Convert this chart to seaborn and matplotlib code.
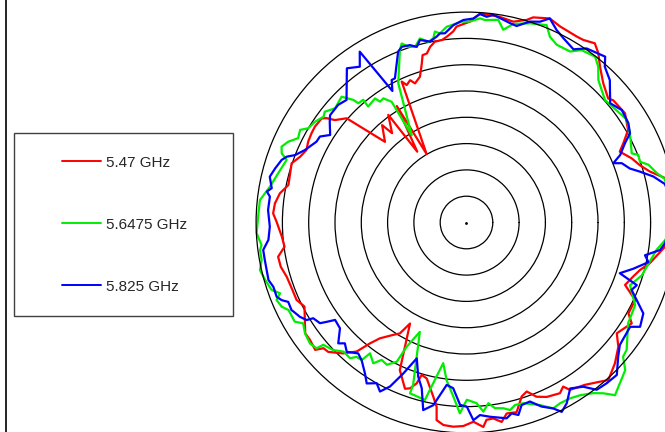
import numpy as np
import pandas as pd
import seaborn as sns
import matplotlib.pyplot as plt
from matplotlib.lines import Line2D
from matplotlib.patches import Rectangle

# radiation pattern, angle in degrees (ccw from east), gain in dB
red_theta = [0, 6, 12.6, 15.5, 18.3, 21.2, 24.8, 26.8, 29.8, 34.6, 39.8, 41.2, 45.5, 49.4, 52.1, 54.4,
             57.4, 59.3, 64.5, 67.8, 72.0, 73.4, 76.9, 80.8, 83.5, 86.3, 89.0, 92.9, 94.0, 96.1, 97.7,
             99.9, 101.7, 103.2, 104.7, 105.7, 107.7, 110.3, 111.6, 113.5, 114.7, 120.2, 120.9, 124.8,
             126.0, 129.8, 130.9, 135.3, 139.0, 142.1, 143.3, 144.3, 147.7, 150.0, 152.9, 155.6, 158.4,
             161.3, 164.4, 168.1, 171.1, 174.3, 177.3, 179.8, 184.4, 187.6, 190.3, 193.4, 196.8, 200.6,
             204.5, 207.4, 214.5, 216.9, 220.1, 221.3, 223.1, 226.7, 229.6, 231.4, 233.2, 236.9, 239.0,
             240.8, 245.7, 249.7, 251.2, 252.8, 253.6, 255.7, 259.2, 260.8, 261.4, 263.5, 266.3, 269.1,
             272.0, 274.7, 275.8, 277.8, 280.0, 281.9, 284.8, 287.6, 289.6, 291.9, 294.7, 298.7, 300.5,
             301.7, 306.1, 310.0, 312.0, 316.5, 320.7, 323.6, 326.9, 328.6, 330.7, 335.3, 338.5, 342.0,
             344.7, 347.5, 353.0, 360]
red_db = [-1.0, -0.8, -1.3, -3.8, -5.3, -6.3, -7.9, -6.6, -4.6, -3.4, -3.7, -4.2, -2.9, -1.0, 0.8, 1.9,
          1.2, 1.1, 1.3, 1.9, 1.0, 0.2, -0.8, -0.4, -0.3, -0.2, -1.8, -2.7, -3.6, -4.5, -5.0,
          -5.1, -5.9, -7.0, -7.1, -8.6, -10.9, -11.8, -10.9, -11.5, -10.5, -24.9, -14.2, -23.6,
          -14.7, -17.9, -15.5, -18.2, -9.8, -8.3, -6.8, -6.1, -5.9, -6.0, -6.2, -6.6, -6.0,
          -4.9, -5.2, -5.4, -4.1, -3.4, -3.2, -3.9, -4.8, -5.1, -3.6, -3.7, -4.3, -4.5,
          -4.5, -5.3, -2.8, -2.8, -2.4, -3.8, -4.0, -5.8, -7.8, -10.6, -12.5, -14.5, -15.4,
          -18.0, -9.2, -6.3, -6.7, -8.0, -9.8, -9.4, -6.3, -4.5, -2.0, -1.25, -1.1, -1.3,
          -2.1, -1.0, -2.3, -2.4, -1.5, -2.9, -2.7, -5.3, -5.9, -4.3, -3.5, -3.0, -3.8,
          -2.6, -1.8, -0.5, 0.3, -1.1, -2.7, -4.5, -3.7, -3.2, -4.7, -4.7, -7.6, -6.7,
          -5.8, -4.3, -2.0, -1.0]

green_theta = [0, 6, 12.4, 14.5, 17.6, 19.3, 21.5, 22.7, 28.6, 32.6, 34.0, 41.5, 47.2, 49.8, 52.2, 56.3,
               58.8, 63.1, 65.8, 67.9, 72.3, 76.7, 79.2, 81.1, 84.8, 86.2, 89.0, 91.4, 92.8, 95.8, 98.0,
               99.4, 100.2, 101.9, 104.2, 106.3, 108.3, 109.9, 111.1, 116.1, 122.1, 121.8, 123.8, 125.6,
               126.4, 130.3, 130.1, 132.2, 132.7, 134.8, 139.0, 142.0, 143.5, 146.4, 149.2, 150.9, 153.4,
               155.6, 157.7, 159.5, 160.8, 164.3, 169.7, 173.8, 177.9, 182.9, 186.3, 187.6, 190.4, 193.0,
               195.9, 199.1, 200.8, 202.2, 204.5, 206.2, 210.0, 211.7, 214.5, 217.7, 220.0, 220.5, 223.7,
               226.4, 229.4, 230.7, 232.7, 233.6, 236.5, 238.3, 240.75, 243.4, 244.3, 246.9, 251.8, 251.7,
               256.8, 260.6, 262.8, 265.7, 268.0, 270.1, 273.2, 275.1, 276.9, 278.7, 281.2, 283.1, 284.9,
               287.4, 291.9, 295.0, 297.3, 300.5, 303.3, 306.6, 308.7, 310.7, 317.1, 319.4, 321.5, 328.1,
               333.9, 339.0, 343.2, 351.8, 354.9, 360]
green_db = [-0.5, -1.0, -1.4, -2.6, -3.7, -5.05, -4.9, -5.95, -4.6, -3.8, -4.0, -4.85, -3.1, -1.2, -0.1, -0.6,
            -2.0, -2.1, -1.3, 0.5, -0.25, -1.2, -2.7, -1.0, -1.35, -1.1, -1.8, -1.8, -2.1, -2.6, -3.7,
            -3.2, -4.4, -4.9, -3.9, -5.2, -4.8, -3.8, -4.85, -10.5, -20.4, -13.0, -11.6, -11.75,
            -10.7, -11.1, -9.5, -9.4, -8.3, -6.3, -6.9, -5.8, -6.2, -5.4, -5.0, -3.8, -4.2,
            -2.8, -2.0, -2.5, -3.8, -3.2, -2.0, -0.5, -0.4, -0.05, -0.8, -0.4, -0.4, 0.3,
            -0.2, -0.8, -2.1, -1.0, -1.4, -2.3, -2.3, -3.5, -2.75, -2.4, -2.8, -4.2, -4.9,
            -6.1, -6.0, -7.0, -7.1, -9.1, -7.9, -9.3, -9.0, -10.4, -13.8, -17.4, -7.5, -5.8,
            -5.35, -12.9, -9.8, -6.8, -3.7, -6.3, -5.6, -3.9, -5.4, -4.3, -4.0, -3.4, -4.1,
            -4.0, -2.6, -1.0, -1.3, -1.2, -0.7, 0.4, 1.6, 3.3, 1.2, -0.8, -1.1, -3.8,
            -4.3, -6.7, -5.2, -3.5, -2.1, -0.5]

blue_theta = [0, 6, 11.0, 13.8, 16.3, 18.3, 20.9, 22.0, 23.7, 26.6, 28.6, 31.5, 35.9, 39.7, 44.8, 48.4,
              50.1, 55.4, 58.3, 62.3, 64.9, 67.8, 69.9, 72.5, 75.7, 77.7, 82.6, 84.4, 86.3, 88.1, 90.9,
              93.8, 96.5, 98.0, 99.1, 101.4, 104.3, 105.8, 107.7, 110.2, 111.8, 116.4, 117.7, 119.4,
              122.0, 124.4, 127.8, 134.4, 137.5, 141.8, 143.6, 147.3, 149.6, 151.7, 155.8, 158.5, 159.9,
              161.3, 164.2, 166.9, 170.0, 171.2, 172.5, 176.4, 181.2, 185.0, 187.7, 190.5, 193.4, 196.2,
              198.4, 201.4, 202.8, 204.0, 206.6, 207.2, 209.5, 211.4, 212.0, 214.5, 215.4, 216.55, 219.9,
              223.3, 224.8, 227.2, 230.4, 232.7, 236.1, 238.2, 240.8, 242.9, 245.0, 247.3, 249.9, 252.6,
              254.9, 257.0, 259.7, 263.05, 265.4, 268.0, 270.1, 272.0, 274.0, 276.9, 281.6, 283.3, 285.1,
              286.8, 289.5, 292.2, 295.0, 296.7, 299.0, 302.0, 305.4, 307.9, 311.1, 314.6, 318.5, 321.4,
              327.5, 329.0, 332.8, 335.5, 337.8, 339.8, 341.7, 344.5, 347.7, 349.6, 351.9, 354.0, 360]
blue_db = [-1.0, -0.7, -1.6, -3.4, -5.6, -7.3, -8.4, -9.9, -8.1, -6.3, -4.6, -3.9, -3.55, -4.5, -1.6, -0.4,
           1.1, 0.2, -1.3, -0.4, 0.4, 1.9, 0.65, 0.05, -1.45, -1.2, -0.2, -0.7, -0.3, -1.2, -1.5,
           -2.4, -3.8, -3.7, -4.2, -4.9, -4.2, -5.3, -4.6, -4.4, -5.0, -9.4, -9.4, -11.3,
           -1.7, -4.1, -2.9, -7.4, -6.9, -7.0, -7.7, -9.2, -7.7, -7.6, -6.35, -5.0, -3.6,
           -2.9, -2.2, -1.6, -2.4, -1.6, -2.3, -2.2, -2.6, -2.2, -1.0, -1.0, -0.95, -0.8,
           -1.3, -1.25, -1.9, -2.9, -2.8, -3.0, -3.6, -4.4, -5.65, -6.2, -7.4, -8.9, -8.65,
           -6.5, -7.4, -6.5, -7.7, -7.1, -5.4, -4.0, -5.0, -3.9, -5.6, -8.9, -12.5, -9.3,
           -7.35, -3.4, -4.7, -8.9, -8.4, -5.3, -5.0, -2.4, -3.3, -2.8, -2.0, -2.7, -2.1,
           -3.75, -3.9, -2.2, -1.0, 0.3, -0.7, -2.8, -1.7, 0.3, 0.55, 0.7, -1.5, -2.7,
           -3.1, -1.5, -2.2, -4.45, -6.1, -5.5, -9.3, -7.1, -4.6, -5.5, -2.85, -2.05, -1.0]

labels = ['5.47 GHz', '5.6475 GHz', '5.825 GHz']
colors = ['#ff0000', '#00ee00', '#0000ff']
rings = [-35, -30, -25, -20, -15, -10, -5]

frames = []
for lab, th, db in zip(labels, [red_theta, green_theta, blue_theta], [red_db, green_db, blue_db]):
    frames.append(pd.DataFrame({'theta': np.deg2rad(th), 'gain': db, 'freq': lab}))
df = pd.concat(frames, ignore_index=True)

sns.set_style('white')
plt.rcParams['font.family'] = ['Liberation Sans', 'DejaVu Sans']

fig = plt.figure(figsize=(6.65, 4.32), dpi=100)
ax = fig.add_axes([0.3851, -0.0021, 0.6328, 0.9741], projection='polar')

sns.lineplot(data=df, x='theta', y='gain', hue='freq', palette=dict(zip(labels, colors)),
             sort=False, estimator=None, legend=False, lw=1.6, clip_on=False, ax=ax)
ax.plot([0], [-40], 'k.', ms=2)

ax.set_ylim(-40, 0)
ax.set_rticks(rings)
ax.set_yticklabels([])
ax.set_xticks([])
ax.tick_params(axis='both', length=0, width=0)
ax.set_xlabel('')
ax.set_ylabel('')
ax.yaxis.grid(True, color='black', lw=0.9, ls='-')
ax.xaxis.grid(False)
ax.spines['polar'].set_color('black')
ax.spines['polar'].set_linewidth(0.9)

# legend box on the left
fig.add_artist(Rectangle((0.02105, 0.2685), 0.3298, 0.4229, transform=fig.transFigure,
                         fill=False, edgecolor='#404040', lw=1))
handles = [Line2D([], [], color=c, lw=1.4) for c in colors]
fig.legend(handles, labels, loc='center', bbox_to_anchor=(0.1875, 0.480), frameon=False,
           fontsize=11, handlelength=2.55, handletextpad=0.3, labelspacing=3.15)

# left frame line
fig.add_artist(Line2D([0.0083, 0.0083], [0, 1], transform=fig.transFigure, color='black', lw=1.2))

fig.savefig('out.png', dpi=100)
